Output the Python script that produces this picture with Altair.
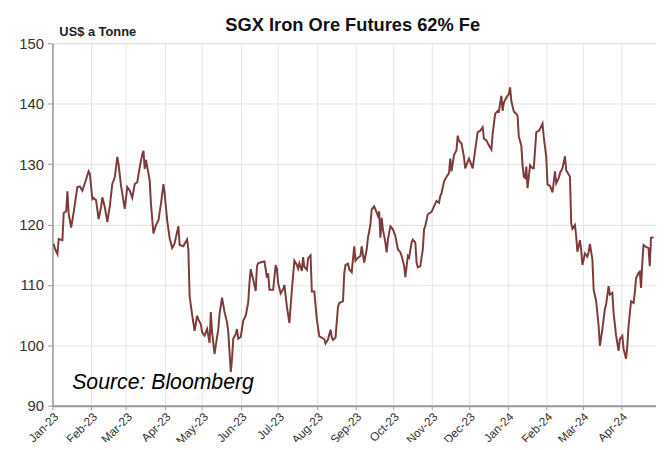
import altair as alt
import pandas as pd

# Days since 2023-01-01 and SGX 62% Fe futures price (US$/t)
day_offsets = [
    1, 2, 4, 5, 8, 9, 11, 12, 13, 15, 17, 20, 22, 24, 27, 29, 30, 32, 33, 35,
    37, 39, 40, 42, 44, 46, 48, 50, 52, 53, 55, 58, 60, 62, 64, 66, 68, 70, 72, 73,
    74, 75, 78, 79, 81, 83, 85, 87, 89, 90, 92, 94, 96, 98, 100, 101, 102, 105, 106, 108,
    109, 110, 112, 114, 116, 117, 119, 120, 122, 124, 126, 127, 128, 130, 132, 133, 134, 136, 138, 140,
    141, 143, 144, 145, 147, 148, 149, 151, 153, 155, 157, 158, 159, 161, 163, 164, 165, 168, 170, 172,
    173, 174, 177, 179, 180, 181, 183, 185, 186, 188, 190, 192, 194, 196, 197, 198, 200, 201, 202, 204,
    205, 207, 208, 210, 212, 214, 216, 218, 219, 221, 223, 224, 225, 227, 229, 230, 233, 234, 235, 237,
    238, 240, 242, 243, 245, 247, 248, 250, 252, 253, 255, 256, 258, 259, 261, 262, 263, 264, 265, 267,
    268, 269, 271, 273, 275, 277, 279, 280, 282, 283, 285, 286, 288, 289, 291, 292, 293, 295, 297, 298,
    299, 301, 304, 306, 308, 310, 311, 312, 314, 316, 318, 319, 320, 322, 324, 325, 326, 328, 330, 331,
    334, 335, 337, 339, 341, 343, 344, 345, 346, 348, 350, 352, 353, 355, 357, 358, 360, 361, 362, 364,
    366, 367, 368, 370, 372, 373, 374, 376, 377, 378, 379, 380, 381, 383, 385, 386, 388, 390, 391, 393,
    394, 396, 397, 399, 401, 403, 404, 406, 407, 409, 411, 412, 415, 416, 417, 419, 420, 421, 423, 424,
    425, 427, 429, 430, 431, 433, 434, 436, 438, 439, 441, 443, 444, 446, 447, 449, 450, 452, 454, 455,
    457, 458, 460, 461, 462, 464, 466, 467, 468, 470, 471, 472, 473, 474, 476, 478, 479, 480, 482,
]
prices = [
    116.8, 116.0, 115.1, 117.6, 117.4, 121.9, 122.2, 125.5, 121.8, 119.5, 122.0, 126.2, 126.3, 125.6, 127.5, 128.8, 128.4, 124.2, 124.4, 124.0,
    120.9, 122.9, 124.5, 122.9, 120.4, 123.1, 126.7, 127.8, 131.2, 130.0, 126.4, 122.6, 126.2, 125.6, 124.4, 126.7, 127.0, 129.5, 131.6, 132.2,
    129.2, 130.7, 127.3, 123.4, 118.5, 119.9, 120.7, 123.4, 126.7, 125.1, 120.7, 117.7, 116.1, 116.9, 118.8, 119.7, 116.6, 116.4, 116.8, 117.5,
    115.8, 108.1, 105.1, 102.4, 104.9, 104.3, 103.5, 102.2, 101.6, 102.7, 100.4, 105.5, 102.2, 98.6, 101.4, 102.7, 105.2, 107.9, 105.5, 103.8,
    102.2, 95.6, 97.8, 101.1, 101.9, 102.7, 101.1, 101.4, 104.1, 104.9, 107.1, 110.4, 112.6, 110.9, 109.0, 113.1, 113.6, 113.8, 113.9, 111.2,
    111.9, 109.2, 109.2, 113.3, 112.7, 110.3, 108.6, 109.3, 110.0, 106.4, 103.7, 109.2, 114.0, 113.3, 112.7, 113.6, 112.3, 114.6, 113.0, 112.5,
    114.4, 114.9, 108.9, 108.9, 104.3, 101.5, 101.3, 101.0, 100.3, 101.0, 102.6, 101.3, 100.9, 101.3, 106.4, 107.0, 107.3, 111.9, 113.3, 113.5,
    112.6, 112.1, 116.4, 114.0, 114.5, 114.8, 116.4, 113.7, 115.9, 117.8, 120.0, 122.5, 123.0, 122.5, 121.4, 122.2, 117.8, 121.1, 119.2, 117.0,
    115.4, 117.5, 119.7, 119.2, 118.1, 115.9, 115.4, 114.8, 113.2, 111.3, 114.8, 114.5, 117.0, 117.5, 117.0, 113.7, 112.9, 113.1, 115.9, 119.2,
    119.8, 121.7, 122.1, 123.0, 123.9, 123.6, 124.7, 125.2, 127.1, 127.9, 128.5, 130.9, 128.8, 131.5, 132.3, 134.7, 133.9, 133.4, 131.2, 129.3,
    130.9, 130.4, 129.3, 132.3, 135.3, 135.5, 135.8, 136.1, 134.2, 133.9, 133.1, 132.4, 135.0, 138.3, 138.8, 138.7, 141.3, 138.8, 140.2, 141.0,
    141.6, 142.7, 140.4, 138.7, 138.3, 138.0, 134.5, 133.1, 129.8, 127.9, 127.7, 129.6, 126.0, 129.8, 129.3, 129.3, 135.3, 135.5, 135.8, 136.7,
    134.5, 131.2, 126.6, 126.4, 125.3, 128.8, 126.8, 127.7, 128.5, 129.3, 131.3, 129.0, 127.9, 120.2, 119.3, 119.9, 118.0, 115.5, 117.4, 115.8,
    113.3, 115.2, 114.7, 115.5, 116.8, 114.2, 109.2, 107.3, 103.2, 99.9, 102.7, 106.0, 106.8, 109.8, 108.4, 108.7, 105.4, 101.6, 99.1, 101.0,
    101.6, 99.4, 97.8, 99.9, 103.2, 107.3, 107.0, 108.7, 111.1, 112.0, 112.2, 109.5, 113.6, 116.6, 116.3, 116.1, 113.1, 117.8, 117.9,
]

month_ticks = [
    "2023-01-01", "2023-02-01", "2023-03-01", "2023-04-01", "2023-05-01", "2023-06-01",
    "2023-07-01", "2023-08-01", "2023-09-01", "2023-10-01", "2023-11-01", "2023-12-01",
    "2024-01-01", "2024-02-01", "2024-03-01", "2024-04-01",
]
y_ticks = [90, 100, 110, 120, 130, 140, 150]

start = pd.Timestamp("2023-01-01")
df = pd.DataFrame({
    "date": [(start + pd.Timedelta(days=d)).strftime("%Y-%m-%d") for d in day_offsets],
    "price": prices,
})

FONT = "Liberation Sans"

tick_dt = [alt.DateTime(year=int(s[:4]), month=int(s[5:7]), date=1) for s in month_ticks]

line = alt.Chart(df).mark_line(color="#7e3b3b", strokeWidth=2).encode(
    x=alt.X(
        "date:T",
        scale=alt.Scale(domain=[alt.DateTime(year=2023, month=1, date=1),
                                alt.DateTime(year=2024, month=4, date=29)]),
        axis=alt.Axis(
            title=None, format="%b-%y", values=tick_dt, labelAngle=315,
            labelOverlap=False, labelBound=False, labelFlush=False,
            labelFont=FONT, labelFontSize=12, labelColor="#333333",
            grid=True, gridColor="#e4e4e4", gridWidth=1,
            domainColor="#9a9a9a", domainWidth=2,
            tickColor="#9a9a9a", tickSize=4, labelPadding=1,
        ),
    ),
    y=alt.Y(
        "price:Q",
        scale=alt.Scale(domain=[90, 150], nice=False, zero=False),
        axis=alt.Axis(
            title=None, values=y_ticks,
            labelFont=FONT, labelFontSize=15, labelColor="#333333",
            grid=True, gridColor="#e4e4e4", gridWidth=1,
            domainColor="#9a9a9a", domainWidth=1.5,
            tickColor="#9a9a9a", tickSize=5, labelPadding=4,
        ),
    ),
)

title_lbl = alt.Chart(pd.DataFrame({"t": ["SGX Iron Ore Futures 62% Fe"]})).mark_text(
    font=FONT, fontSize=18.5, fontWeight="bold", align="center", baseline="alphabetic", color="#111111"
).encode(text="t:N", x=alt.value(304), y=alt.value(-12))

unit_lbl = alt.Chart(pd.DataFrame({"t": ["US$ a Tonne"]})).mark_text(
    font=FONT, fontSize=13, fontWeight="bold", align="left", baseline="alphabetic", color="#222222"
).encode(text="t:N", x=alt.value(7), y=alt.value(-7))

source_lbl = alt.Chart(pd.DataFrame({"t": ["Source: Bloomberg"]})).mark_text(
    font=FONT, fontSize=21.5, fontStyle="italic", align="left", baseline="alphabetic", color="#000000"
).encode(text="t:N", x=alt.value(20), y=alt.value(350))

chart = alt.layer(line, title_lbl, unit_lbl, source_lbl).properties(
    width=611,
    height=367,
    padding={"left": 45, "top": 33, "right": 0, "bottom": 34},
    autosize="none",
).configure_view(stroke=None).configure(background="white")

chart.save("out.html", embed_options={"renderer": "svg", "actions": False})
